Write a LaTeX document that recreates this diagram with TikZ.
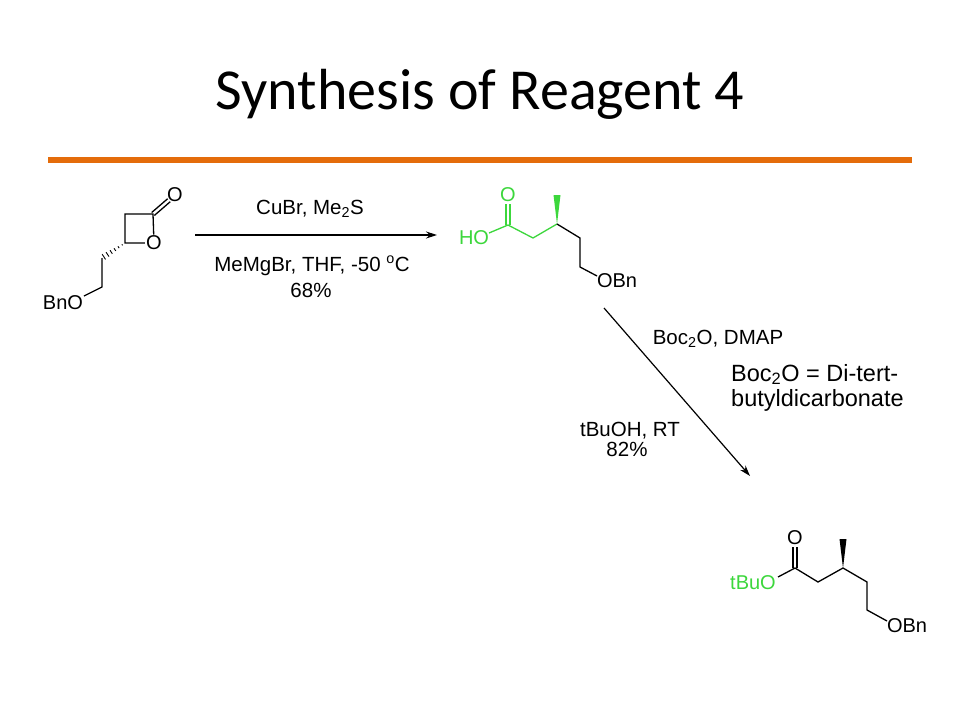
\documentclass[tikz,border=0pt]{standalone}
\usepackage{fontspec}
\setmainfont{Liberation Sans}
\newfontfamily\titlefont{Carlito}
\usetikzlibrary{arrows.meta,calc}
\definecolor{chemgreen}{RGB}{60,215,60}
\definecolor{accentorange}{RGB}{228,108,10}
\begin{document}
\begin{tikzpicture}[x=1pt,y=-1pt,
  atom/.style={inner sep=1.2pt, font=\fontsize{20}{24}\selectfont},
  lbl/.style={inner sep=0pt, font=\fontsize{20}{24}\selectfont},
  rgt/.style={inner sep=0pt, font=\fontsize{20.5}{24}\selectfont},
  note/.style={inner sep=0pt, align=left, font=\fontsize{23.5}{25}\selectfont},
  bond/.style={line width=1.3pt},
  hashline/.style={line width=0.9pt},
  rxn/.style={line width=1.2pt, -{Stealth[length=11pt,width=7pt]}},
]
\useasboundingbox (0,0) rectangle (960,720);
\fill[white] (0,0) rectangle (960,720);

% title and rule
\node[anchor=base, inner sep=0pt, font=\titlefont\fontsize{58}{62}\selectfont] (title) at (480,109) {Synthesis of Reagent 4};
\coordinate (ruleL) at (48,160);
\coordinate (ruleR) at (912,160);
\draw[accentorange, line width=6pt] (ruleL) -- (ruleR);

% ---------- molecule A: lactone ----------
\coordinate (a1) at (125,214);
\coordinate (a2) at (153,214);
\coordinate (a3) at (125,243);
\node[atom] (aO) at (154,243) {O};
\node[atom] (aOc) at (175,195) {O};
\coordinate (a4) at (102,258);
\coordinate (a5) at (102,287);
\node[lbl] (aBnO) at (63,303) {BnO};
\coordinate (aBnOend) at (84,296);
\draw[bond] (aO) -- (a3) -- (a1) -- (a2) -- (aO);
\draw[bond, shorten >=8pt] ($(a2)+(-1.3,-1.5)$) -- ($(aOc)+(-1.3,-1.5)$);
\draw[bond, shorten >=8pt] ($(a2)+(1.3,1.5)$) -- ($(aOc)+(1.3,1.5)$);
\foreach \t/\w in {0.12/0.6,0.28/1.1,0.44/1.6,0.6/2.1,0.76/2.6,0.92/3.1}
  \draw[hashline] ($(a3)!\t!(a4)+(\w*0.545,\w*0.836)$) -- ($(a3)!\t!(a4)-(\w*0.545,\w*0.836)$);
\draw[bond] (a4) -- (a5) -- (aBnOend);

% ---------- arrow 1 ----------
\coordinate (r1s) at (195,235);
\coordinate (r1e) at (437,235);
\draw[rxn] (r1s) -- (r1e);
\node[rgt, anchor=base] (t1) at (310,214) {CuBr, Me\textsubscript{2}S};
\node[rgt, anchor=base] (t2) at (312,271) {MeMgBr, THF, -50 \textsuperscript{o}C};
\node[rgt, anchor=base] (t3) at (311,297) {68\%};

% ---------- molecule B: acid ----------
\node[atom, text=chemgreen] (bOc) at (508,195) {O};
\coordinate (b1) at (508,225);
\node[lbl, text=chemgreen] (bHO) at (474,238) {HO};
\coordinate (bHOend) at (489,233);
\coordinate (b2) at (533,238);
\coordinate (b3) at (557,224);
\coordinate (b4) at (580,238);
\coordinate (b5) at (580,267);
\node[lbl] (bOBn) at (617,281) {OBn};
\coordinate (bOBnend) at (597,276);
\draw[bond, chemgreen] (bHOend) -- (b1) -- (b2) -- (b3);
\draw[bond, chemgreen] ($(b1)+(-2,0)$) -- ($(b1)+(-2,-21)$);
\draw[bond, chemgreen] ($(b1)+(2,0)$) -- ($(b1)+(2,-21)$);
\fill[chemgreen] (b3) -- ($(b3)+(-3.5,-29)$) -- ($(b3)+(3.5,-29)$) -- cycle;
\draw[bond] (b3) -- (b4) -- (b5) -- (bOBnend);

% ---------- arrow 2 ----------
\coordinate (r2s) at (604,308);
\coordinate (r2e) at (750,476);
\draw[rxn] (r2s) -- (r2e);
\node[rgt, anchor=base] (t4) at (718,344) {Boc\textsubscript{2}O, DMAP};
\node[note, anchor=north west] (t5) at (731,364) {Boc\textsubscript{2}O = Di-tert-\\butyldicarbonate};
\node[rgt, anchor=base] (t7) at (630,436) {tBuOH, RT};
\node[rgt, anchor=base] (t8) at (627,456) {82\%};

% ---------- molecule C: tBu ester ----------
\node[atom] (cOc) at (795,538) {O};
\coordinate (c1) at (795,568);
\node[lbl, text=chemgreen] (ctBuO) at (753,583) {tBuO};
\coordinate (ctBuOend) at (778,577);
\coordinate (c2) at (818,582);
\coordinate (c3) at (843,568);
\coordinate (c4) at (867,582);
\coordinate (c5) at (867,610);
\node[lbl] (cOBn) at (907,626) {OBn};
\coordinate (cOBnend) at (887,621);
\draw[bond] (ctBuOend) -- (c1) -- (c2) -- (c3) -- (c4) -- (c5) -- (cOBnend);
\draw[bond] ($(c1)+(-2,0)$) -- ($(c1)+(-2,-21)$);
\draw[bond] ($(c1)+(2,0)$) -- ($(c1)+(2,-21)$);
\fill (c3) -- ($(c3)+(-3.5,-29)$) -- ($(c3)+(3.5,-29)$) -- cycle;
\end{tikzpicture}
\end{document}
